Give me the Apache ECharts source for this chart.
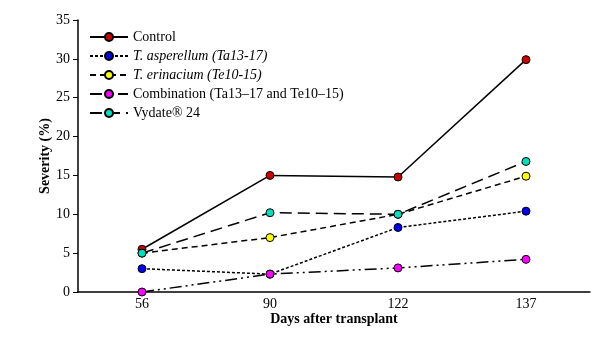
<!DOCTYPE html>
<html>
<head>
<meta charset="utf-8">
<script src="https://cdn.jsdelivr.net/npm/echarts@6/dist/echarts.min.js"></script>
<style>
  html, body { margin: 0; padding: 0; background: #fff; }
  #main { width: 614px; height: 340px; }
</style>
</head>
<body>
<div id="main"></div>
<script>
const days = ['56', '90', '122', '137'];
const control = [5.5, 15.0, 14.8, 29.9];
const asperellum = [3.0, 2.3, 8.3, 10.4];
const erinacium = [5.0, 7.0, 10.0, 14.9];
const combination = [0.0, 2.3, 3.1, 4.2];
const vydate = [5.0, 10.2, 10.0, 16.8];

const font = 'Liberation Serif';

function makeSeries(name, data, color, dash) {
  return {
    name: name,
    type: 'line',
    data: data,
    symbol: 'circle',
    symbolSize: 8,
    itemStyle: { color: color, borderColor: '#000', borderWidth: 1 },
    lineStyle: { color: '#000', width: 1.5, type: dash },
    emphasis: { disabled: true }
  };
}

let chart = echarts.init(document.getElementById('main'));
chart.setOption({
  animation: false,
  textStyle: { fontFamily: font },
  grid: { left: 78, right: 24, top: 20, bottom: 48 },
  legend: {
    orient: 'vertical',
    left: 84,
    top: 25,
    itemGap: 5,
    itemWidth: 38,
    itemHeight: 10,
    textStyle: {
      fontFamily: font, fontSize: 14, color: '#000',
      rich: { i: { fontFamily: font, fontSize: 14, fontStyle: 'italic', color: '#000' } }
    },
    formatter: function (name) {
      if (name === 'T. asperellum (Ta13-17)' || name === 'T. erinacium (Te10-15)') {
        return '{i|' + name + '}';
      }
      return name;
    }
  },
  xAxis: {
    type: 'category',
    data: days,
    boundaryGap: true,
    name: 'Days after transplant',
    nameLocation: 'middle',
    nameMoveOverlap: false,
    nameGap: 20,
    nameTextStyle: { fontFamily: font, fontSize: 14, fontWeight: 'bold', color: '#000' },
    axisLine: { lineStyle: { color: '#000', width: 1.5 } },
    axisTick: { show: false },
    axisLabel: { fontFamily: font, fontSize: 14, color: '#000', margin: 5 }
  },
  yAxis: {
    type: 'value',
    min: 0,
    max: 35,
    interval: 5,
    name: 'Severity (%)',
    nameLocation: 'middle',
    nameMoveOverlap: false,
    nameGap: 26,
    nameTextStyle: { fontFamily: font, fontSize: 14, fontWeight: 'bold', color: '#000' },
    axisLine: { show: true, lineStyle: { color: '#000', width: 1.5 } },
    axisTick: { show: true, length: 5, lineStyle: { color: '#000' } },
    splitLine: { show: false },
    axisLabel: { fontFamily: font, fontSize: 14, color: '#000', margin: 8 }
  },
  series: [
    makeSeries('Control', control, '#cc0000', 'solid'),
    makeSeries('T. asperellum (Ta13-17)', asperellum, '#0000ee', [3, 2]),
    makeSeries('T. erinacium (Te10-15)', erinacium, '#ffff00', [6, 4]),
    makeSeries('Combination (Ta13\u201317 and Te10\u201315)', combination, '#ff00ff', [12, 4, 2, 4, 2, 4]),
    makeSeries('Vydate\u00ae 24', vydate, '#00e0c0', [12, 6])
  ]
});
</script>
</body>
</html>
